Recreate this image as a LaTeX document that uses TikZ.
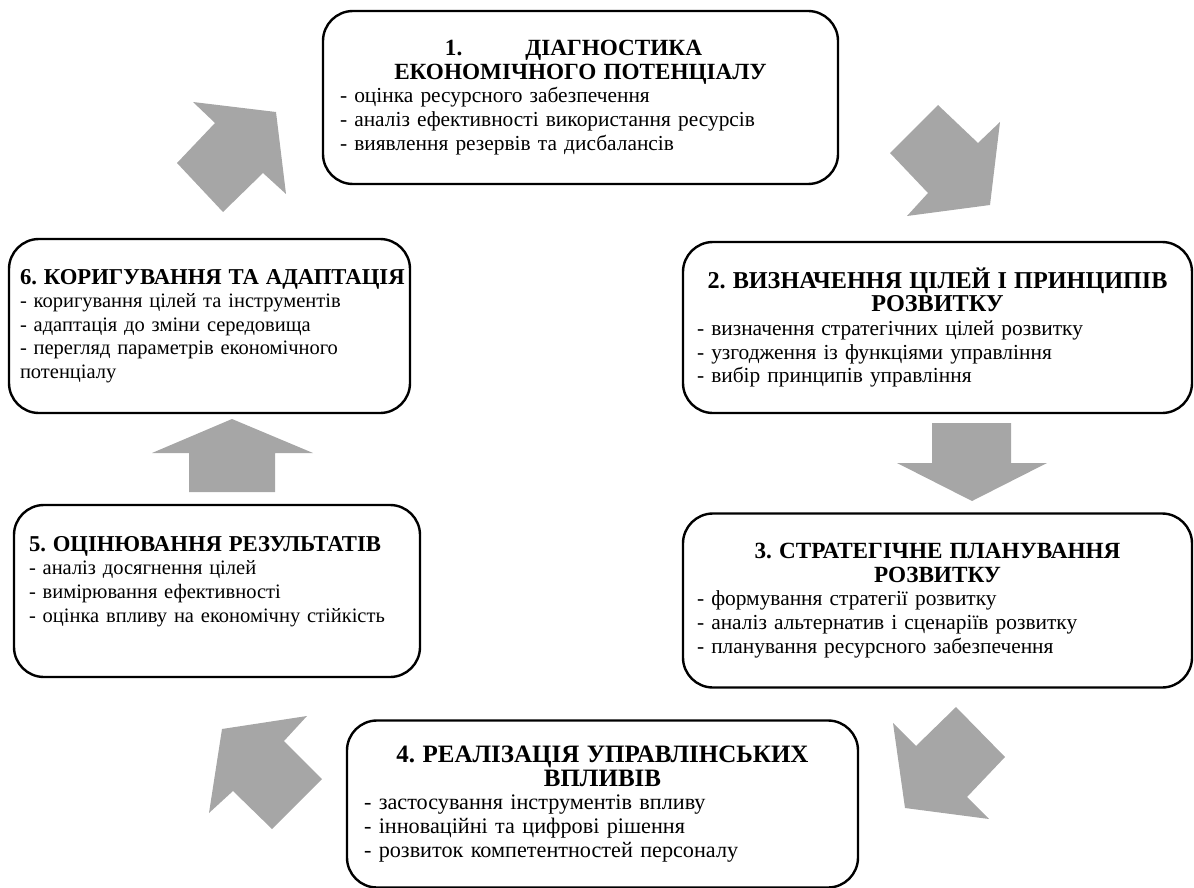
\documentclass[tikz,border=0pt]{standalone}
\usepackage{fontspec}
\setmainfont{Liberation Serif}
\frenchspacing
\definecolor{arrowgray}{HTML}{A6A6A6}
\newcommand\ttlfont{\fontsize{23.2}{23.5}\selectfont\bfseries}
\newcommand\ttlsmall{\fontsize{22.7}{23.5}\selectfont\bfseries}
\newcommand\ttlbig{\fontsize{24.2}{23.5}\selectfont\bfseries}
\newcommand\ttlhuge{\fontsize{25}{23.5}\selectfont\bfseries}
\newcommand\boxttl[1]{\makebox[\hsize][c]{\ttlfont #1}}
\begin{document}
\begin{tikzpicture}[x=1pt,y=-1pt,
  stage/.style={draw=black, line width=2.4pt, rounded corners=30pt, fill=white,
    align=left, inner ysep=0pt, font=\fontsize{21.4}{23.6}\selectfont},
  smalltext/.style={font=\fontsize{20.5}{23.6}\selectfont},
  blockarrow/.style={fill=arrowgray, draw=none}]
\useasboundingbox (0,0) rectangle (1194,888);

% stage boxes
\node[stage, text width=481pt, inner xsep=17pt, minimum height=173pt] (b1) at (580.5,97.5)
 {\boxttl{1.\hspace{63pt}ДІАГНОСТИКА\hspace{14pt}}\\
  \boxttl{ЕКОНОМІЧНОГО ПОТЕНЦІАЛУ}\\
  - оцінка ресурсного забезпечення\\
  - аналіз ефективності використання ресурсів\\
  - виявлення резервів та дисбалансів};

\node[stage, text width=481pt, inner xsep=14pt, minimum height=171pt] (b2) at (937.5,327.5)
 {\makebox[\hsize][c]{\ttlbig 2. ВИЗНАЧЕННЯ ЦІЛЕЙ І ПРИНЦИПІВ}\\
  \makebox[\hsize][c]{\ttlbig РОЗВИТКУ}\\
  - визначення стратегічних цілей розвитку\\
  - узгодження із функціями управління\\
  - вибір принципів управління};

\node[stage, text width=481pt, inner xsep=14pt, minimum height=174pt] (b3) at (937.5,600.5)
 {\boxttl{3. СТРАТЕГІЧНЕ ПЛАНУВАННЯ}\\
  \boxttl{РОЗВИТКУ}\\
  - формування стратегії розвитку\\
  - аналіз альтернатив і сценаріїв розвитку\\
  - планування ресурсного забезпечення};

\node[stage, text width=477pt, inner xsep=17pt, minimum height=167pt,
      font=\fontsize{22.2}{23.6}\selectfont] (b4) at (602.5,804)
 {\makebox[\hsize][c]{\ttlhuge 4. РЕАЛІЗАЦІЯ УПРАВЛІНСЬКИХ}\\
  \makebox[\hsize][c]{\ttlhuge ВПЛИВІВ}\\
  - застосування інструментів впливу\\
  - інноваційні та цифрові рішення\\
  - розвиток компетентностей персоналу};

\node[stage, smalltext, text width=376pt, inner xsep=15pt, minimum height=172pt] (b5) at (217,591)
 {\mbox{\ttlsmall 5. ОЦІНЮВАННЯ РЕЗУЛЬТАТІВ}\\
  - аналіз досягнення цілей\\
  - вимірювання ефективності\\
  - оцінка впливу на економічну стійкість\\
  \mbox{}};

\node[stage, smalltext, text width=379pt, inner xsep=11pt, minimum height=174pt] (b6) at (209.5,326)
 {\mbox{\ttlsmall 6. КОРИГУВАННЯ ТА АДАПТАЦІЯ}\\
  - коригування цілей та інструментів\\
  - адаптація до зміни середовища\\
  - перегляд параметрів економічного\\
  потенціалу};

% block arrows
\fill[blockarrow] (276,112) -- (193,102) -- (215,123) -- (177,163) -- (223,212) -- (263,173) -- (286,194) -- cycle;
\fill[blockarrow] (938,105) -- (978,143) -- (1000,122) -- (990,205) -- (907,216) -- (928,193) -- (890,153) -- cycle;
\fill[blockarrow] (932,423) -- (1011,423) -- (1011,463) -- (1047,463) -- (972,501) -- (897,463) -- (932,463) -- cycle;
\fill[blockarrow] (189,492) -- (275,492) -- (275,453) -- (313,453) -- (232,419) -- (152,453) -- (189,453) -- cycle;
\fill[blockarrow] (956,707) -- (1005,757) -- (967,797) -- (989,819) -- (905,808) -- (893,723) -- (916,746) -- cycle;
\fill[blockarrow] (307,716) -- (284,741) -- (322,779) -- (272,829) -- (233,791) -- (209,813) -- (222,729) -- cycle;
\end{tikzpicture}
\end{document}
